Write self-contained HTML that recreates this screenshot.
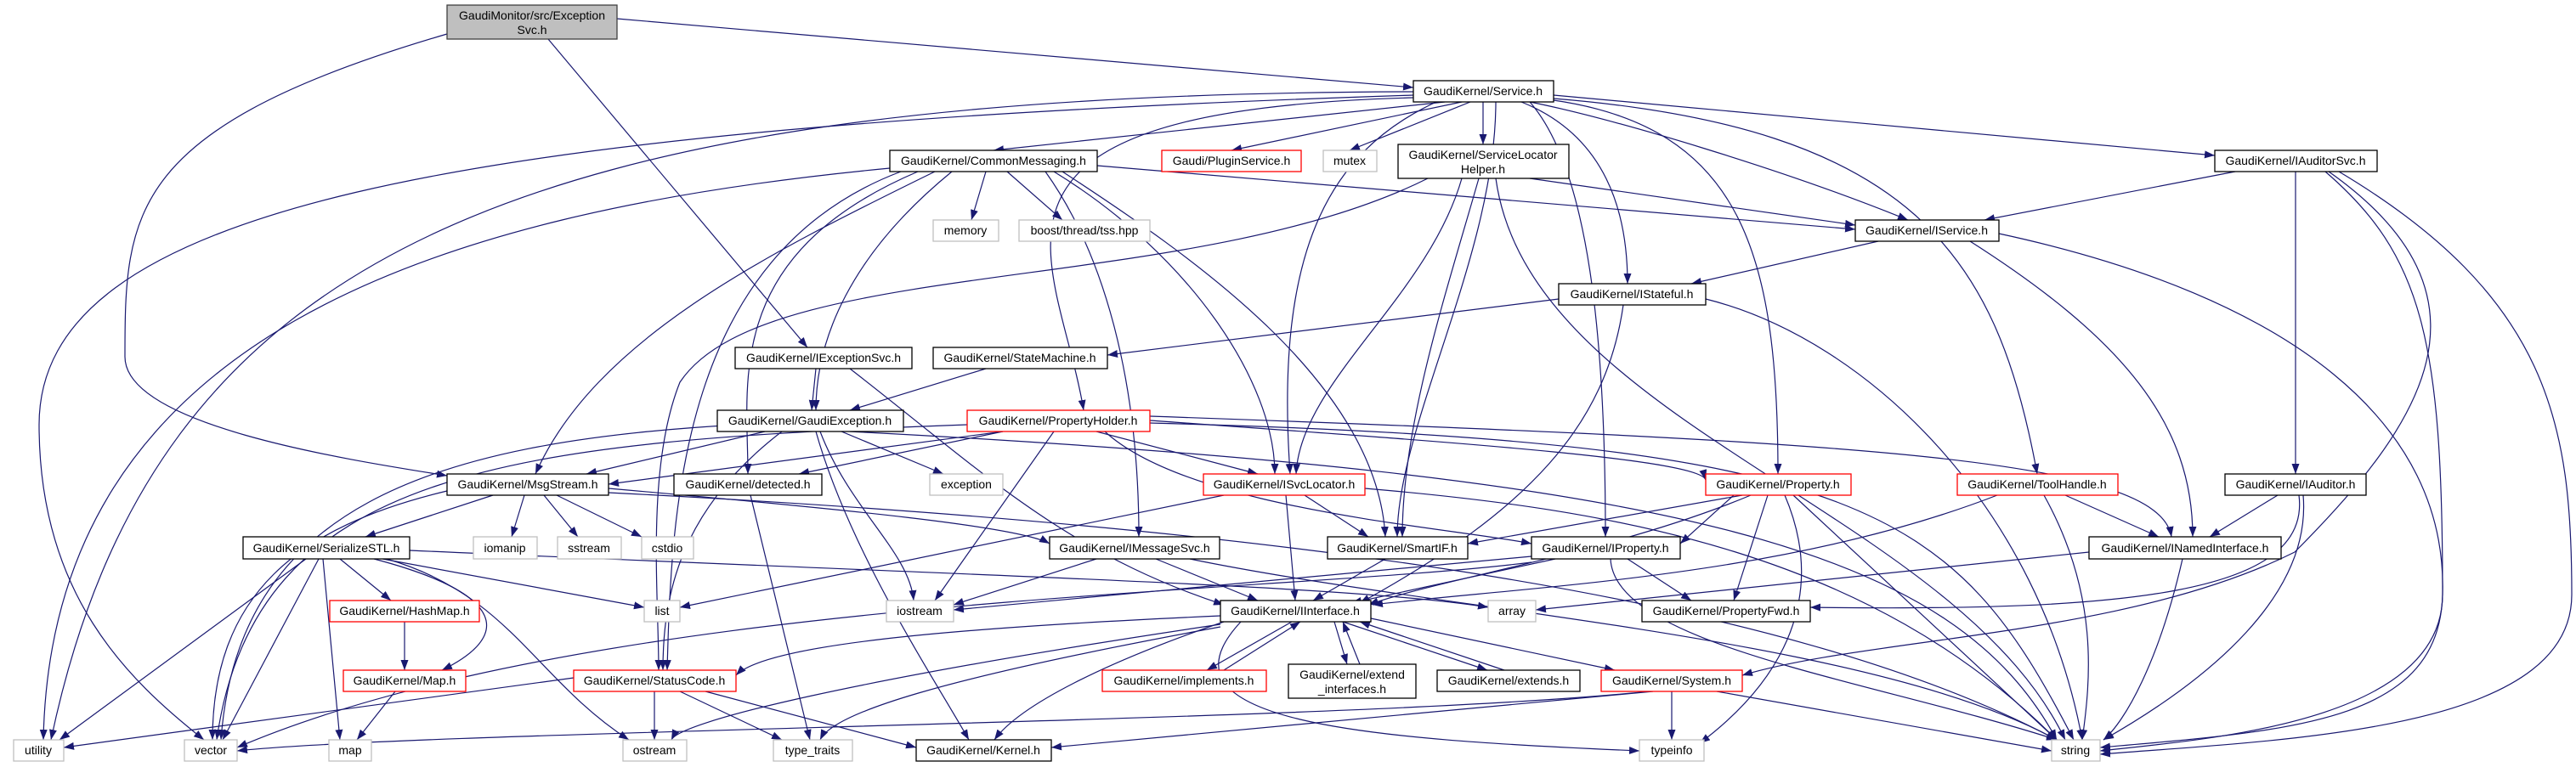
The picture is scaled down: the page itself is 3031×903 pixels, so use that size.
<!DOCTYPE html>
<html><head><meta charset="utf-8"><style>
html,body{margin:0;padding:0;background:#fff}
svg{display:block}
.e path{fill:none;stroke:#191970;stroke-width:1.2;marker-end:url(#a)}
.n rect{fill:#fff;stroke:#000;stroke-width:1.3}
.n rect.r{stroke:#ff0000}
.n rect.g{stroke:#bfbfbf}
.n rect.root{fill:#bfbfbf;stroke:#404040}
text{font-family:"Liberation Sans",sans-serif;font-size:14px;fill:#000;text-anchor:middle}
</style></head><body>
<svg width="3031" height="903" viewBox="0 0 3031 903" xmlns="http://www.w3.org/2000/svg">
<defs><marker id="a" viewBox="0 0 12 10" refX="12" refY="5" markerWidth="12" markerHeight="10" markerUnits="userSpaceOnUse" orient="auto"><path d="M0,0.5L12,5L0,9.5z" fill="#191970"/></marker></defs>
<g class="e">
<path d="M726,22 L1663,103"/>
<path d="M645,46 L950,409"/>
<path d="M526,40 C150,150 147,250 147,420 C147,500 400,540 526,560"/>
<path d="M1700,120 L1169,177"/>
<path d="M1720,120 L1449,177"/>
<path d="M1730,120 L1588,177"/>
<path d="M1745,120 L1745,170"/>
<path d="M1800,120 C1900,140 2100,200 2245,259"/>
<path d="M1828,112 L2606,183"/>
<path d="M1790,120 C1890,160 1915,250 1915,334"/>
<path d="M1828,118 C2050,150 2092,300 2092,558"/>
<path d="M1828,116 C2250,150 2350,300 2397,558"/>
<path d="M1800,120 C1870,200 1889,400 1889,632"/>
<path d="M1690,120 C1560,180 1500,300 1518,558"/>
<path d="M1760,120 C1760,300 1644,500 1644,632"/>
<path d="M1663,115 C1100,130 1245,300 1275,483"/>
<path d="M1663,108 C600,110 180,300 60,871"/>
<path d="M1663,112 C500,150 46,250 46,500 C46,700 150,800 240,871"/>
<path d="M1160,202 L1143,259"/>
<path d="M1185,202 L1250,259"/>
<path d="M1291,195 L2183,270"/>
<path d="M1100,202 C900,300 700,400 630,558"/>
<path d="M1120,202 C1000,300 960,400 960,483"/>
<path d="M1080,202 C850,300 880,450 880,558"/>
<path d="M1240,202 C1400,300 1500,450 1500,558"/>
<path d="M1250,202 C1400,300 1620,450 1630,632"/>
<path d="M1230,202 C1300,300 1340,450 1340,632"/>
<path d="M1047,198 C500,250 60,400 51,871"/>
<path d="M1060,202 C800,300 790,600 785,789"/>
<path d="M1800,210 L2183,265"/>
<path d="M1720,210 C1680,350 1530,450 1525,558"/>
<path d="M1740,210 C1700,350 1650,500 1650,632"/>
<path d="M1680,210 C1400,350 900,300 800,450 C760,550 775,700 775,789"/>
<path d="M1760,210 C1800,500 2300,600 2430,871"/>
<path d="M2210,284 L1990,334"/>
<path d="M2318,284 C2500,400 2580,500 2580,632"/>
<path d="M2352,275 C2700,350 2880,500 2874,700 C2870,850 2700,860 2471,880"/>
<path d="M2630,202 L2335,259"/>
<path d="M2701,202 L2701,558"/>
<path d="M2736,202 C2850,300 2874,400 2874,700 C2874,850 2600,870 2471,884"/>
<path d="M2752,202 C3000,350 3026,500 3026,700 C3026,860 2700,870 2471,888"/>
<path d="M2740,202 C2950,350 2850,500 2700,650 C2500,750 2200,750 2050,795"/>
<path d="M1834,352 L1303,418"/>
<path d="M1910,359 C1890,500 1800,600 1600,710"/>
<path d="M2007,352 C2200,400 2400,600 2450,871"/>
<path d="M1160,434 L1000,483"/>
<path d="M960,434 L955,483"/>
<path d="M1000,434 C1150,550 1250,650 1440,712"/>
<path d="M900,508 L690,558"/>
<path d="M870,500 C500,520 280,600 260,871"/>
<path d="M960,508 C1000,650 1100,800 1140,871"/>
<path d="M990,508 L1110,558"/>
<path d="M965,508 C1000,600 1070,650 1075,707"/>
<path d="M1000,508 C2000,560 2300,650 2420,871"/>
<path d="M920,508 C800,600 780,700 780,789"/>
<path d="M1180,508 L716,570"/>
<path d="M1180,508 L940,558"/>
<path d="M1290,508 L1480,558"/>
<path d="M1353,495 C1700,520 2000,540 2007,565"/>
<path d="M1300,508 C1400,600 1700,620 1802,640"/>
<path d="M1240,508 L1100,707"/>
<path d="M1353,490 C2200,520 2540,540 2555,632"/>
<path d="M1353,498 C2200,520 2300,600 2440,871"/>
<path d="M1138,500 C600,520 300,550 255,871"/>
<path d="M580,583 L430,632"/>
<path d="M617,583 L602,632"/>
<path d="M640,583 L680,632"/>
<path d="M655,583 L755,632"/>
<path d="M716,575 C1000,600 1200,620 1235,640"/>
<path d="M716,580 C1500,620 2100,700 2420,871"/>
<path d="M526,578 C350,620 250,700 250,871"/>
<path d="M400,658 L460,707"/>
<path d="M440,658 C600,700 600,750 520,789"/>
<path d="M482,648 C1200,680 1600,690 1751,715"/>
<path d="M450,658 L758,715"/>
<path d="M360,658 L70,871"/>
<path d="M375,658 L262,871"/>
<path d="M380,658 L400,871"/>
<path d="M455,658 C600,700 630,800 740,871"/>
<path d="M476,732 L476,789"/>
<path d="M465,814 L420,871"/>
<path d="M675,798 L75,880"/>
<path d="M770,814 L770,871"/>
<path d="M800,814 L920,871"/>
<path d="M830,814 L1078,880"/>
<path d="M883,583 L953,871"/>
<path d="M1440,583 L800,715"/>
<path d="M1513,583 L1524,707"/>
<path d="M1535,583 L1610,632"/>
<path d="M1606,575 C1900,600 2200,650 2420,871"/>
<path d="M1290,658 L1122,712"/>
<path d="M1360,658 L1480,707"/>
<path d="M1400,658 C1700,720 2200,750 2420,871"/>
<path d="M1630,658 L1545,707"/>
<path d="M1802,655 L1122,718"/>
<path d="M1830,658 L1590,710"/>
<path d="M1915,658 L1990,707"/>
<path d="M1895,658 C1900,760 2200,800 2420,871"/>
<path d="M1802,662 C1500,700 700,700 279,880"/>
<path d="M2040,583 L1977,640"/>
<path d="M2050,583 L1727,640"/>
<path d="M2080,583 L2040,707"/>
<path d="M2060,583 C1900,650 1700,680 1610,712"/>
<path d="M2110,583 L2420,871"/>
<path d="M2100,583 C2150,700 2100,800 2000,875"/>
<path d="M2430,583 L2540,632"/>
<path d="M2405,583 C2470,700 2460,800 2450,871"/>
<path d="M2350,583 C2100,680 1800,690 1615,712"/>
<path d="M2680,583 L2600,632"/>
<path d="M2710,583 C2720,700 2600,800 2475,871"/>
<path d="M2705,583 C2720,700 2500,720 2130,715"/>
<path d="M2458,650 L1807,718"/>
<path d="M2568,658 C2540,780 2500,850 2475,871"/>
<path d="M1440,732 C1300,780 1200,830 1170,871"/>
<path d="M1520,732 L1420,789"/>
<path d="M1440,789 L1530,732"/>
<path d="M1570,732 L1585,782"/>
<path d="M1600,782 L1580,732"/>
<path d="M1580,732 L1750,789"/>
<path d="M1770,789 L1600,732"/>
<path d="M1613,728 L1900,789"/>
<path d="M1436,725 C1100,740 900,760 866,795"/>
<path d="M1436,735 C1000,800 800,850 790,871"/>
<path d="M1436,738 C1100,800 980,840 965,871"/>
<path d="M1460,732 C1350,850 1600,870 1929,884"/>
<path d="M1945,814 L1237,880"/>
<path d="M1967,814 L1967,871"/>
<path d="M2020,814 L2414,884"/>
<path d="M1940,814 C1600,850 500,860 279,884"/>
</g>
<g class="n">
<rect class="root" x="526" y="6" width="200" height="40"/><text x="626" y="23">GaudiMonitor/src/Exception</text><text x="626" y="40">Svc.h</text>
<rect x="1663" y="95" width="165" height="25"/><text x="1745" y="112">GaudiKernel/Service.h</text>
<rect x="1047" y="177" width="244" height="25"/><text x="1169" y="194">GaudiKernel/CommonMessaging.h</text>
<rect class="r" x="1367" y="177" width="164" height="25"/><text x="1449" y="194">Gaudi/PluginService.h</text>
<rect class="g" x="1557" y="177" width="63" height="25"/><text x="1588" y="194">mutex</text>
<rect x="1645" y="170" width="201" height="40"/><text x="1745" y="187">GaudiKernel/ServiceLocator</text><text x="1745" y="204">Helper.h</text>
<rect x="2606" y="177" width="191" height="25"/><text x="2701" y="194">GaudiKernel/IAuditorSvc.h</text>
<rect class="g" x="1098" y="259" width="77" height="25"/><text x="1136" y="276">memory</text>
<rect class="g" x="1199" y="259" width="154" height="25"/><text x="1276" y="276">boost/thread/tss.hpp</text>
<rect x="2183" y="259" width="169" height="25"/><text x="2267" y="276">GaudiKernel/IService.h</text>
<rect x="1834" y="334" width="173" height="25"/><text x="1920" y="351">GaudiKernel/IStateful.h</text>
<rect x="865" y="409" width="208" height="25"/><text x="969" y="426">GaudiKernel/IExceptionSvc.h</text>
<rect x="1098" y="409" width="205" height="25"/><text x="1200" y="426">GaudiKernel/StateMachine.h</text>
<rect x="844" y="483" width="219" height="25"/><text x="953" y="500">GaudiKernel/GaudiException.h</text>
<rect class="r" x="1138" y="483" width="215" height="25"/><text x="1245" y="500">GaudiKernel/PropertyHolder.h</text>
<rect x="526" y="558" width="190" height="25"/><text x="621" y="575">GaudiKernel/MsgStream.h</text>
<rect x="793" y="558" width="174" height="25"/><text x="880" y="575">GaudiKernel/detected.h</text>
<rect class="g" x="1094" y="558" width="86" height="25"/><text x="1137" y="575">exception</text>
<rect class="r" x="1416" y="558" width="190" height="25"/><text x="1511" y="575">GaudiKernel/ISvcLocator.h</text>
<rect class="r" x="2007" y="558" width="171" height="25"/><text x="2092" y="575">GaudiKernel/Property.h</text>
<rect class="r" x="2303" y="558" width="189" height="25"/><text x="2397" y="575">GaudiKernel/ToolHandle.h</text>
<rect x="2618" y="558" width="166" height="25"/><text x="2701" y="575">GaudiKernel/IAuditor.h</text>
<rect x="286" y="632" width="196" height="26"/><text x="384" y="650">GaudiKernel/SerializeSTL.h</text>
<rect class="g" x="557" y="632" width="75" height="26"/><text x="594" y="650">iomanip</text>
<rect class="g" x="656" y="632" width="75" height="26"/><text x="693" y="650">sstream</text>
<rect class="g" x="755" y="632" width="61" height="26"/><text x="785" y="650">cstdio</text>
<rect x="1235" y="632" width="200" height="26"/><text x="1335" y="650">GaudiKernel/IMessageSvc.h</text>
<rect x="1562" y="632" width="165" height="26"/><text x="1644" y="650">GaudiKernel/SmartIF.h</text>
<rect x="1802" y="632" width="175" height="26"/><text x="1889" y="650">GaudiKernel/IProperty.h</text>
<rect x="2458" y="632" width="226" height="26"/><text x="2571" y="650">GaudiKernel/INamedInterface.h</text>
<rect class="r" x="388" y="707" width="176" height="25"/><text x="476" y="724">GaudiKernel/HashMap.h</text>
<rect class="g" x="758" y="707" width="42" height="25"/><text x="779" y="724">list</text>
<rect class="g" x="1043" y="707" width="79" height="25"/><text x="1082" y="724">iostream</text>
<rect x="1436" y="707" width="177" height="25"/><text x="1524" y="724">GaudiKernel/IInterface.h</text>
<rect class="g" x="1751" y="707" width="56" height="25"/><text x="1779" y="724">array</text>
<rect x="1932" y="707" width="198" height="25"/><text x="2031" y="724">GaudiKernel/PropertyFwd.h</text>
<rect class="r" x="404" y="789" width="144" height="25"/><text x="476" y="806">GaudiKernel/Map.h</text>
<rect class="r" x="675" y="789" width="191" height="25"/><text x="770" y="806">GaudiKernel/StatusCode.h</text>
<rect class="r" x="1297" y="789" width="193" height="25"/><text x="1393" y="806">GaudiKernel/implements.h</text>
<rect x="1516" y="782" width="150" height="40"/><text x="1591" y="799">GaudiKernel/extend</text><text x="1591" y="816">_interfaces.h</text>
<rect x="1691" y="789" width="168" height="25"/><text x="1775" y="806">GaudiKernel/extends.h</text>
<rect class="r" x="1884" y="789" width="166" height="25"/><text x="1967" y="806">GaudiKernel/System.h</text>
<rect class="g" x="16" y="871" width="59" height="25"/><text x="45" y="888">utility</text>
<rect class="g" x="217" y="871" width="62" height="25"/><text x="248" y="888">vector</text>
<rect class="g" x="387" y="871" width="50" height="25"/><text x="412" y="888">map</text>
<rect class="g" x="733" y="871" width="75" height="25"/><text x="770" y="888">ostream</text>
<rect class="g" x="910" y="871" width="93" height="25"/><text x="956" y="888">type_traits</text>
<rect x="1078" y="871" width="159" height="25"/><text x="1157" y="888">GaudiKernel/Kernel.h</text>
<rect class="g" x="1929" y="871" width="76" height="25"/><text x="1967" y="888">typeinfo</text>
<rect class="g" x="2414" y="871" width="57" height="25"/><text x="2442" y="888">string</text>
</g>
</svg>
</body></html>
